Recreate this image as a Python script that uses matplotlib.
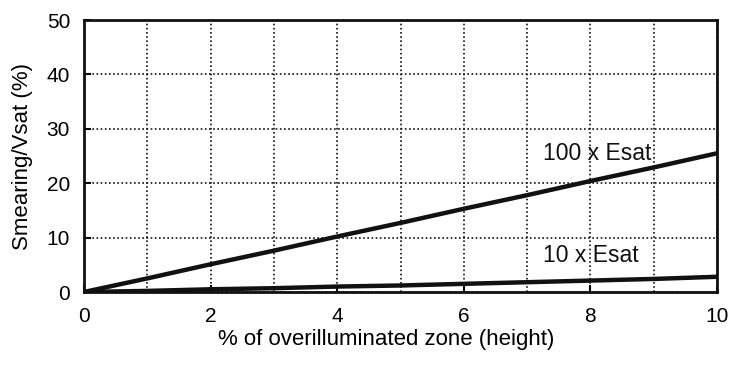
import matplotlib
matplotlib.use("Agg")
import matplotlib.pyplot as plt

plt.rcParams['font.family'] = ['Liberation Sans', 'DejaVu Sans']

x = [0, 1, 2, 3, 4, 5, 6, 7, 8, 9, 10]
esat100 = [0, 2.5, 5.1, 7.6, 10.2, 12.7, 15.3, 17.8, 20.4, 22.9, 25.5]
esat10 = [0, 0.2, 0.5, 0.7, 1.0, 1.2, 1.5, 1.8, 2.1, 2.4, 2.8]

fig = plt.figure(figsize=(7.29, 3.66), dpi=100)
ax = fig.add_axes([84 / 729, 1 - 292 / 366, (717 - 84) / 729, (292 - 20) / 366])

ax.plot(x, esat100, color='#111111', linewidth=3.2, solid_capstyle='butt')
ax.plot(x, esat10, color='#111111', linewidth=3.2, solid_capstyle='butt')

ax.text(7.25, 25.4, '100 x Esat', fontsize=16.5, color='#111111', va='center')
ax.text(7.25, 6.8, '10 x Esat', fontsize=16.5, color='#111111', va='center')

ax.set_xlim(0, 10)
ax.set_ylim(0, 50)
ax.set_xticks([0, 2, 4, 6, 8, 10])
ax.set_xticks([1, 3, 5, 7, 9], minor=True)
ax.set_yticks([0, 10, 20, 30, 40, 50])
ax.grid(True, which='both', linestyle=(0, (1, 1.5)), color='#111111', linewidth=1.2)
ax.tick_params(which='both', direction='in', length=5, width=1.5, labelsize=15)
ax.tick_params(axis='x', pad=11)
ax.tick_params(axis='y', pad=10)
ax.tick_params(axis='x', which='minor', length=0)
for s in ax.spines.values():
    s.set_linewidth(2)
    s.set_color('#111111')

ax.set_xlabel('% of overilluminated zone (height)', fontsize=16, labelpad=3)
ax.xaxis.set_label_coords(0.477, -0.135)
ax.set_ylabel('Smearing/Vsat (%)', fontsize=16, labelpad=10)

fig.savefig('out.png', dpi=100)
